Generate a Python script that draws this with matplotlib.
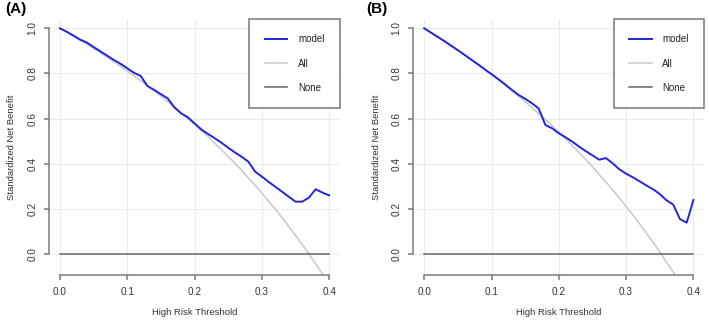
import numpy as np
import matplotlib
matplotlib.use('Agg')
import matplotlib.pyplot as plt

plt.rcParams['font.family'] = ['Liberation Sans', 'DejaVu Sans']

thresholds = [0.00, 0.01, 0.02, 0.03, 0.04, 0.05, 0.06, 0.07, 0.08, 0.09,
              0.10, 0.11, 0.12, 0.13, 0.14, 0.15, 0.16, 0.17, 0.18, 0.19,
              0.20, 0.21, 0.22, 0.23, 0.24, 0.25, 0.26, 0.27, 0.28, 0.29,
              0.30, 0.31, 0.32, 0.33, 0.34, 0.35, 0.36, 0.37, 0.38, 0.39, 0.40]

# panel A
model_a = [1.000, 0.985, 0.968, 0.950, 0.937, 0.917, 0.898, 0.879, 0.860, 0.843,
           0.823, 0.803, 0.789, 0.744, 0.727, 0.708, 0.690, 0.650, 0.623, 0.606,
           0.579, 0.552, 0.532, 0.513, 0.493, 0.471, 0.450, 0.431, 0.409, 0.365,
           0.343, 0.320, 0.298, 0.276, 0.254, 0.232, 0.232, 0.250, 0.287, 0.272, 0.260]
all_a = [1.000, 0.983, 0.965, 0.947, 0.929, 0.910, 0.891, 0.872, 0.852, 0.832,
         0.811, 0.790, 0.768, 0.746, 0.723, 0.700, 0.676, 0.651, 0.626, 0.601,
         0.574, 0.547, 0.520, 0.491, 0.462, 0.432, 0.402, 0.370, 0.338, 0.305,
         0.270, 0.235, 0.199, 0.161, 0.123, 0.083, 0.042, 0.000, -0.044, -0.089, -0.135]

# panel B
model_b = [1.000, 0.981, 0.962, 0.943, 0.923, 0.903, 0.882, 0.861, 0.840, 0.818,
           0.797, 0.775, 0.752, 0.728, 0.705, 0.688, 0.668, 0.645, 0.572, 0.557,
           0.535, 0.517, 0.498, 0.476, 0.456, 0.437, 0.418, 0.425, 0.402, 0.375,
           0.356, 0.340, 0.322, 0.304, 0.287, 0.266, 0.238, 0.219, 0.155, 0.139, 0.239]
all_b = [1.000, 0.981, 0.962, 0.943, 0.923, 0.903, 0.882, 0.861, 0.840, 0.818,
         0.795, 0.772, 0.749, 0.725, 0.700, 0.675, 0.649, 0.623, 0.596, 0.568,
         0.540, 0.511, 0.481, 0.450, 0.419, 0.386, 0.353, 0.319, 0.284, 0.248,
         0.211, 0.173, 0.134, 0.093, 0.052, 0.009, -0.036, -0.081, -0.128, -0.177, -0.227]
none_line = [0.0] * len(thresholds)

x_ticks = [0.0, 0.1, 0.2, 0.3, 0.4]
y_ticks = [0.0, 0.2, 0.4, 0.6, 0.8, 1.0]

axis_col = '#7a7a7a'
text_col = '#333333'


def draw_panel(ax, model, all_curve):
    ax.grid(True, color='#ececec', linewidth=0.8)
    ax.set_axisbelow(True)
    ax.plot(thresholds, all_curve, color='#c8c8c8', lw=1.1, label='All')
    ax.plot(thresholds, none_line, color='#666666', lw=1.1, label='None')
    ax.plot(thresholds, model, color='#2424e0', lw=1.4, label='model')
    ax.set_xlim(-0.016, 0.416)
    ax.set_ylim(-0.092, 1.042)
    ax.set_xticks(x_ticks)
    ax.set_yticks(y_ticks)
    ax.set_xticklabels([f'{v:.1f}' for v in x_ticks])
    ax.set_yticklabels([f'{v:.1f}' for v in y_ticks], rotation=90, va='center')
    for s in ['top', 'right']:
        ax.spines[s].set_visible(False)
    ax.spines['left'].set_bounds(0, 1)
    ax.spines['bottom'].set_bounds(0, 0.4)
    for s in ['left', 'bottom']:
        ax.spines[s].set_color(axis_col)
        ax.spines[s].set_linewidth(1.1)
    ax.tick_params(length=3.5, width=1.1, color=axis_col, labelcolor=text_col,
                   labelsize=7.2, pad=5)
    ax.set_xlabel('High Risk Threshold', fontsize=6.8, color=text_col, labelpad=8)
    ax.set_ylabel('Standardized Net Benefit', fontsize=6.8, color=text_col, labelpad=8)

    h, l = ax.get_legend_handles_labels()
    order = [2, 0, 1]
    leg = ax.legend([h[i] for i in order], [l[i] for i in order], loc='upper right',
                    fontsize=7, frameon=True, fancybox=False, borderaxespad=0,
                    borderpad=1.6, labelspacing=1.45, handlelength=2.3,
                    handletextpad=1.1)
    leg.get_frame().set_edgecolor('#555555')
    leg.get_frame().set_linewidth(1.1)
    for t in leg.get_texts():
        t.set_color('#222222')


fig = plt.figure(figsize=(7.09, 3.25), dpi=100)
ax_a = fig.add_axes([0.0694, 0.1545, 0.41, 0.7875])
ax_b = fig.add_axes([0.5832, 0.1545, 0.41, 0.7875])
draw_panel(ax_a, model_a, all_a)
draw_panel(ax_b, model_b, all_b)
fig.text(5 / 709, 1 - 2 / 325, '(A)', fontsize=11, fontweight='bold', ha='left', va='top')
fig.text(366 / 709, 1 - 2 / 325, '(B)', fontsize=11, fontweight='bold', ha='left', va='top')

fig.savefig('out.png', dpi=100)
